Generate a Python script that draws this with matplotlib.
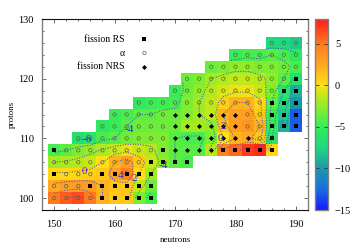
import numpy as np
import matplotlib
matplotlib.use("Agg")
import matplotlib.pyplot as plt
from matplotlib.colors import LinearSegmentedColormap, Normalize
from matplotlib.cm import ScalarMappable

plt.rcParams['font.family'] = ['Liberation Serif', 'DejaVu Serif']

protons = [100, 102, 104, 106, 108, 110, 112, 114, 116, 118, 120, 122, 124, 126]
first_neutron = [150, 150, 150, 150, 150, 154, 158, 160, 164, 170, 172, 176, 180, 186]
row_100 = [5, 6, 6.5, 5, 2, 1, 1, -3, -4.5]
row_102 = [2.5, 3, 3.2, 3, 2, 1.2, 1, -1, -3.5]
row_104 = [0.3, 0.3, 0.5, 0.7, 1, 3, 4.5, 0, -2]
row_106 = [-2, -1.8, -1.5, -1, 0, 2, 3, 1, -1, -2.5, -4, -4.5]
row_108 = [-4.5, -4, -3, -2.5, -1.8, -1, -0.5, -1, -1.5, -3, -4, -4, -4, -1.5, 4.5, 5.5, 7, 7.5, 0.5]
row_110 = [-6.5, -6, -4.5, -4, -3.5, -3, -3, -3, -4, -4.5, -4.5, -3, 0, 2, 2.5, 1, -6]
row_112 = [-5.5, -5, -4, -3.5, -3.5, -3.5, -3.5, -2, -2, -2.5, 1.5, 3, 3.5, 2, -5, -9, -13]
row_114 = [-5, -4.5, -4, -4, -3.5, -3.5, -3, -2, -1, 2, 3, 3, 1, -5, -8, -13]
row_116 = [-5.5, -5, -4.8, -4.5, -3, -2, -1.2, 0.8, 2, 2, 0.5, -4, -7, -10]
row_118 = [-5, -3.5, -2.5, -1.5, -0.8, -0.3, -0.3, -1, -3, -6, -9]
row_120 = [-3.5, -3, -2, -1.5, -1.2, -1.2, -1.5, -2.5, -4, -6.5]
row_122 = [-3.5, -3, -2.5, -2.5, -3, -3, -3.5, -4.5]
row_124 = [-5, -4.5, -4.5, -4, -4.5, -5.5]
row_126 = [-7.5, -7.5, -8]
rows = [row_100, row_102, row_104, row_106, row_108, row_110, row_112,
        row_114, row_116, row_118, row_120, row_122, row_124, row_126]

# decay mode per cell: r = fission RS, a = alpha, n = fission NRS
modes_100 = "aaaarrrrr"
modes_102 = "aaarrrrrr"
modes_104 = "raaarrrrr"
modes_106 = "aaaaaaaarrrr"
modes_108 = "raaaaaaaarnnnnrrrrr"
modes_110 = "aaaaaaaannnnnnnar"
modes_112 = "aaaaaannnnnnaarrr"
modes_114 = "aaaaannnnnnaarrr"
modes_116 = "aaaaaaaaaaarrr"
modes_118 = "aaaaaaaaarr"
modes_120 = "aaaaaaaaar"
modes_122 = "aaaaaaaa"
modes_124 = "aaaaaa"
modes_126 = "aaa"
modes = [modes_100, modes_102, modes_104, modes_106, modes_108, modes_110, modes_112,
         modes_114, modes_116, modes_118, modes_120, modes_122, modes_124, modes_126]

neutrons = np.arange(150, 192, 2)
grid = np.full((len(protons), len(neutrons)), np.nan)
pts = {'r': ([], []), 'a': ([], []), 'n': ([], [])}
for i, (z, n0, vals, ms) in enumerate(zip(protons, first_neutron, rows, modes)):
    for k, (v, m) in enumerate(zip(vals, ms)):
        n = n0 + 2 * k
        grid[i, (n - 150) // 2] = v
        pts[m][0].append(n)
        pts[m][1].append(z)
masked = np.ma.masked_invalid(grid)

stops = [(-15, '#1418ff'), (-12.5, '#1a6fe0'), (-10, '#1c98a8'), (-7.5, '#20d880'),
         (-6, '#28e468'), (-5, '#38ec58'), (-4, '#58ee44'), (-2.5, '#90ec28'), (-1, '#c8e818'),
         (0, '#ffe014'), (2.5, '#ffa820'), (5, '#ff7a20'), (8, '#ff1c1c')]
cmap = LinearSegmentedColormap.from_list('pal', [((v + 15) / 23, c) for v, c in stops])
norm = Normalize(-15, 8)

W, H = 350, 245
fig = plt.figure(figsize=(W / 100, H / 100), dpi=100)
ax = fig.add_axes([42 / W, 1 - 210 / H, 266 / W, 191 / H])
xe = np.arange(149, 193, 2)
ye = np.arange(99, 129, 2)
ax.pcolormesh(xe, ye, masked, cmap=cmap, norm=norm, shading='flat', linewidth=0, rasterized=True)
ax.contour(neutrons, protons, masked, levels=np.arange(-14, 8, 2), colors='#3c48c0',
           linewidths=0.7, linestyles=[(0, (1, 1.6))])

ax.scatter(*pts['r'], marker='s', s=5.5, c='k', linewidths=0, label='fission RS', zorder=4)
ax.scatter(*pts['a'], marker='o', s=6, facecolors='none', edgecolors='#5c6440',
           linewidths=0.5, label='α', zorder=4)
ax.scatter(*pts['n'], marker='D', s=6.5, c='k', linewidths=0, label='fission NRS', zorder=4)

ax.set_xlim(148, 192)
ax.set_ylim(98, 130)
ax.set_xticks([150, 160, 170, 180, 190])
ax.set_yticks([100, 110, 120, 130])
ax.set_xticks(np.arange(148, 193, 2), minor=True)
ax.set_yticks(np.arange(98, 131, 2), minor=True)
ax.tick_params(which='both', direction='in', top=True, right=True, labelsize=7.5, color='#555555', width=0.6)
ax.tick_params(which='major', length=3.0)
ax.tick_params(which='minor', length=1.6)
ax.tick_params(axis='x', which='major', pad=7)
ax.tick_params(axis='y', which='major', pad=6)
for s in ('left', 'right'):
    ax.spines[s].set_color('#808080')
    ax.spines[s].set_linewidth(1.0)
for s in ('top', 'bottom'):
    ax.spines[s].set_color('#101010')
    ax.spines[s].set_linewidth(0.8)
ax.set_xlabel('neutrons', fontsize=6.5, labelpad=5)
ax.set_ylabel('protons', fontsize=6.5, labelpad=2)

contour_labels = ['-6', '-4', '0', '4', '2', '-4', '2', '0']
label_n = [155.5, 162.5, 155, 161, 163.2, 168, 178, 177.5]
label_z = [109.8, 111.5, 104.5, 103.7, 103.2, 105.5, 112, 110]
for t, n, z in zip(contour_labels, label_n, label_z):
    ax.text(n, z, t, color='#3030c8', fontsize=8, ha='center', va='center', zorder=5)

leg = ax.legend(loc='upper left', bbox_to_anchor=(0.133, 0.918), frameon=False, markerfirst=False,
                fontsize=7, labelspacing=0.5, handletextpad=1.0, scatterpoints=1,
                alignment='right', borderpad=0, borderaxespad=0)
for t in leg.get_texts():
    t.set_ha('right')

cax = fig.add_axes([314.5 / W, 1 - 210 / H, 13.5 / W, 191 / H])
cb = fig.colorbar(ScalarMappable(norm=norm, cmap=cmap), cax=cax)
cb.set_ticks([-15, -10, -5, 0, 5])
cb.ax.tick_params(direction='in', left=True, right=True, length=3, width=0.6, labelsize=7.5, pad=5, color='#333333')
cb.outline.set_edgecolor('#808080')
cb.outline.set_linewidth(1.0)

fig.savefig('out.png', dpi=100)
